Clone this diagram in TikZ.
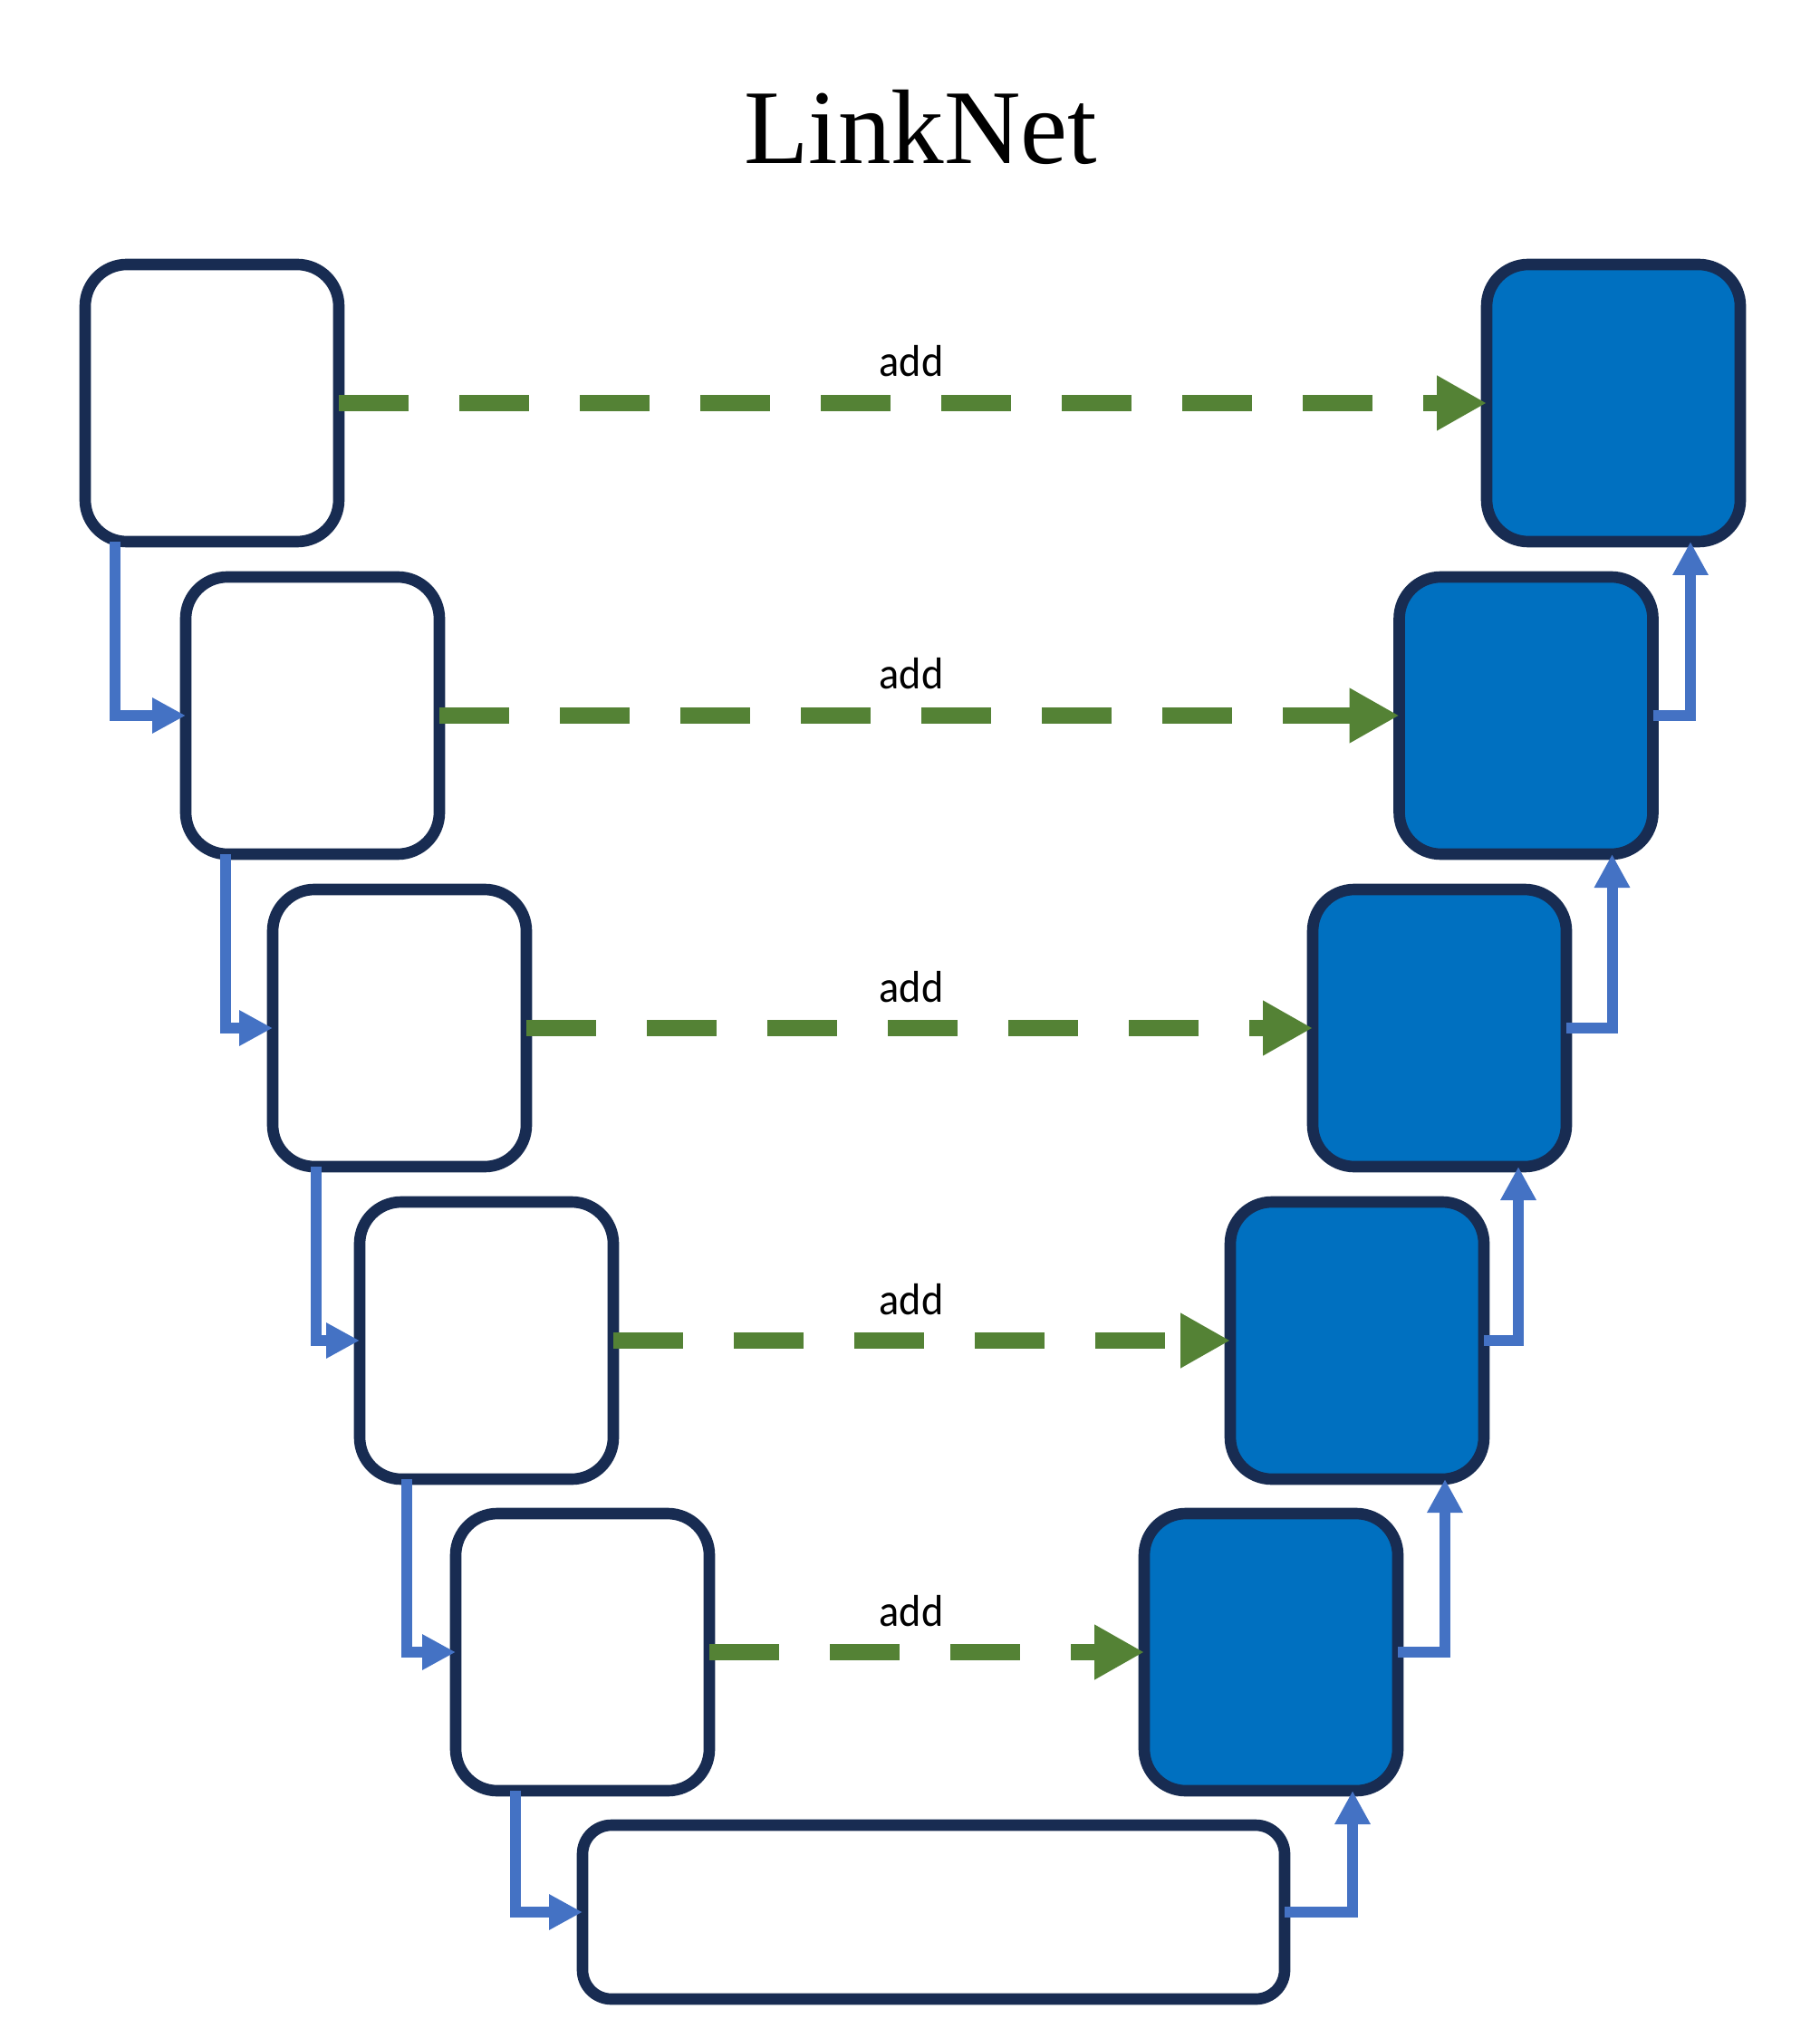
\documentclass[tikz,border=0pt]{standalone}
\usepackage{fontspec}
\usepackage{tikz}
\usetikzlibrary{positioning, arrows.meta, calc}
\newfontfamily\titlefont{Liberation Serif}
\newfontfamily\labelfont[FakeStretch=0.94]{Carlito}

\begin{document}
\begin{tikzpicture}[>=latex]
    \definecolor{edge}{RGB}{24, 44, 82} \definecolor{dec}{RGB}{0, 112, 192}
    \definecolor{skip}{RGB}{84, 130, 53} \definecolor{flow}{RGB}{68, 114, 196}
    \tikzset{
        box/.style={draw=edge, line width=3.6pt, rounded corners=0.46cm, minimum width=2.8cm, minimum height=3.06cm, inner sep=0pt, outer sep=0pt},
        encbox/.style={box, fill=white},
        decbox/.style={box, fill=dec},
        addarrow/.style={draw=skip, line width=5.3pt, dash pattern=on 0.77cm off 0.56cm, -{Triangle[length=0.55cm, width=0.57cm]}},
        flowline/.style={draw=flow, line width=3.4pt, -{Triangle[length=0.37cm, width=0.37cm]}},
        addlabel/.style={font=\labelfont\fontsize{14}{16}\selectfont, anchor=base, inner sep=0pt}
    }
    \useasboundingbox (0,0) rectangle (20.08,-22.5);

    \node[font=\titlefont\fontsize{33.3}{36}\selectfont, anchor=base, inner sep=0pt] (title) at (10.16,-1.81) {LinkNet};
    \coordinate (axis) at (10.06,0);

    % encoder / decoder rows
    \foreach \n/\lx/\rx/\y in {1/2.34/17.81/4.45, 2/3.45/16.845/7.90, 3/4.41/15.89/11.35, 4/5.37/14.98/14.80, 5/6.43/14.03/18.24} {
        \node[encbox] (enc\n) at (\lx,-\y) {};
        \node[decbox] (dec\n) at (\rx,-\y) {};
    }
    \node[encbox, minimum width=7.75cm, minimum height=1.92cm, rounded corners=0.32cm] (center) at (10.305,-21.11) {};

    % skip connections
    \foreach \n in {1,...,5} {
        \draw[addarrow] (enc\n.east) -- (dec\n.west);
        \node[addlabel, yshift=0.29cm] (add\n) at (axis |- enc\n.east) {add};
    }

    % down path
    \foreach \a/\b/\dx in {enc1/enc2/0.33, enc2/enc3/0.44, enc3/enc4/0.48, enc4/enc5/0.52, enc5/center/0.66}
        \draw[flowline] ([xshift=\dx cm]\a.south west) |- (\b.west);

    % up path
    \foreach \a/\b/\dx in {center/dec5/0.50, dec5/dec4/0.43, dec4/dec3/0.53, dec3/dec2/0.45, dec2/dec1/0.55}
        \draw[flowline] (\a.east) -| ([xshift=-\dx cm]\b.south east);
\end{tikzpicture}
\end{document}
